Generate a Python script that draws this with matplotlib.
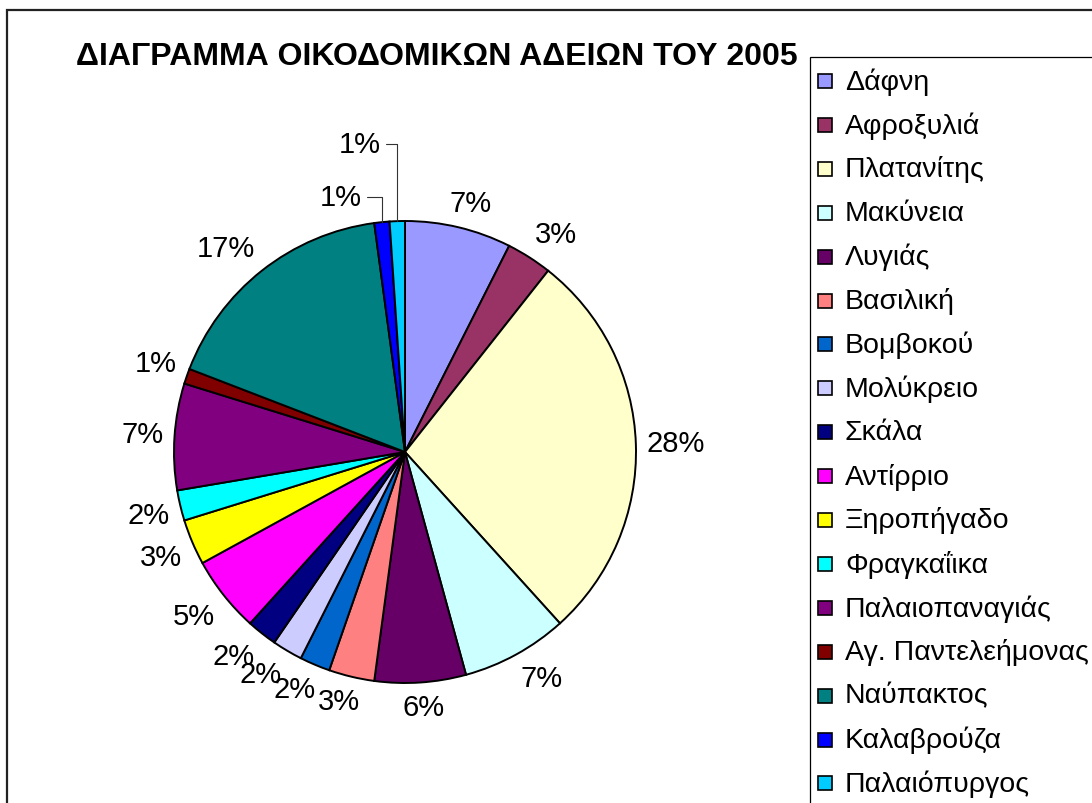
import matplotlib
matplotlib.use("Agg")
import matplotlib.pyplot as plt
from matplotlib.patches import Rectangle
import numpy as np

plt.rcParams['font.family'] = ['Liberation Sans', 'DejaVu Sans']

title = "ΔΙΑΓΡΑΜΜΑ ΟΙΚΟΔΟΜΙΚΩΝ ΑΔΕΙΩΝ ΤΟΥ 2005"
villages = ["Δάφνη", "Αφροξυλιά", "Πλατανίτης", "Μακύνεια", "Λυγιάς", "Βασιλική",
            "Βομβοκού", "Μολύκρειο", "Σκάλα", "Αντίρριο", "Ξηροπήγαδο", "Φραγκαΐικα",
            "Παλαιοπαναγιάς", "Αγ. Παντελεήμονας", "Ναύπακτος", "Καλαβρούζα", "Παλαιόπυργος"]
permits = [7, 3, 26, 7, 6, 3, 2, 2, 2, 5, 3, 2, 7, 1, 16, 1, 1]
colors = ["#9999FF", "#993366", "#FFFFCC", "#CCFFFF", "#660066", "#FF8080",
          "#0066CC", "#CCCCFF", "#000080", "#FF00FF", "#FFFF00", "#00FFFF",
          "#800080", "#800000", "#008080", "#0000FF", "#00CCFF"]

W, H = 1092, 804
fig = plt.figure(figsize=(W / 100, H / 100), dpi=100)

# outer chart border (extends past right/bottom)
fig.add_artist(Rectangle((7 / W, (H - 830) / H), (1120 - 7) / W, (830 - 11) / H,
                         transform=fig.transFigure, fill=False, edgecolor='#222222', lw=1.6))

cx, cy, R = 405, 453, 231
span = 1.6
ax = fig.add_axes([(cx - span * R) / W, (H - cy - span * R) / H, 2 * span * R / W, 2 * span * R / H])
wedges, _ = ax.pie(permits, colors=colors, startangle=90, counterclock=False, radius=1,
                   wedgeprops=dict(edgecolor='black', linewidth=1.4))
ax.set_xlim(-span, span)
ax.set_ylim(-span, span)
ax.set_aspect('equal')
ax.axis('off')

fig.canvas.draw()
renderer = fig.canvas.get_renderer()
total = sum(permits)
gap = 11 / R
n = len(permits)
fs = 21
for i, (w, v) in enumerate(zip(wedges, permits)):
    pct = f"{round(100 * v / total):.0f}%"
    theta = np.deg2rad((w.theta1 + w.theta2) / 2)
    ux, uy = np.cos(theta), np.sin(theta)
    if i >= n - 2:
        off = (-20, 25) if i == n - 2 else (-17, 77)
        ax.annotate(pct, xy=(ux, uy), xytext=off, textcoords='offset pixels',
                    ha='right', va='center', fontsize=fs,
                    arrowprops=dict(arrowstyle='-', color='#333333', lw=0.8,
                                    shrinkA=2, shrinkB=0, relpos=(1, 0.5),
                                    connectionstyle='angle,angleA=0,angleB=90,rad=0'))
        continue
    t = ax.text(0, 0, pct, ha='center', va='center', fontsize=fs)
    bb = t.get_window_extent(renderer)
    wd, ht = bb.width / R, bb.height / R
    x = (1 + gap) * ux + wd / 2 * np.clip(2 * ux, -1, 1)
    y = (1 + gap) * uy + ht / 2 * np.clip(2 * uy, -1, 1)
    t.set_position((x, y))

# title
fig.text(437 / W, (H - 57) / H, title, ha='center', va='center', fontsize=23, fontweight='bold')

# legend frame (extends past right/bottom)
fig.add_artist(Rectangle((810 / W, (H - 830) / H), (1120 - 810) / W, (830 - 58) / H,
                         transform=fig.transFigure, fill=False, edgecolor='black', lw=0.9))
ly0, dy = 82, 43.9
for i, (name, col) in enumerate(zip(villages, colors)):
    yc = ly0 + dy * i
    fig.add_artist(Rectangle((818 / W, (H - yc - 7) / H), 14 / W, 14 / H, transform=fig.transFigure,
                             facecolor=col, edgecolor='black', lw=1.2))
    fig.text(845 / W, (H - yc) / H, name, ha='left', va='center', fontsize=20.5)

fig.savefig("out.png", dpi=100)
